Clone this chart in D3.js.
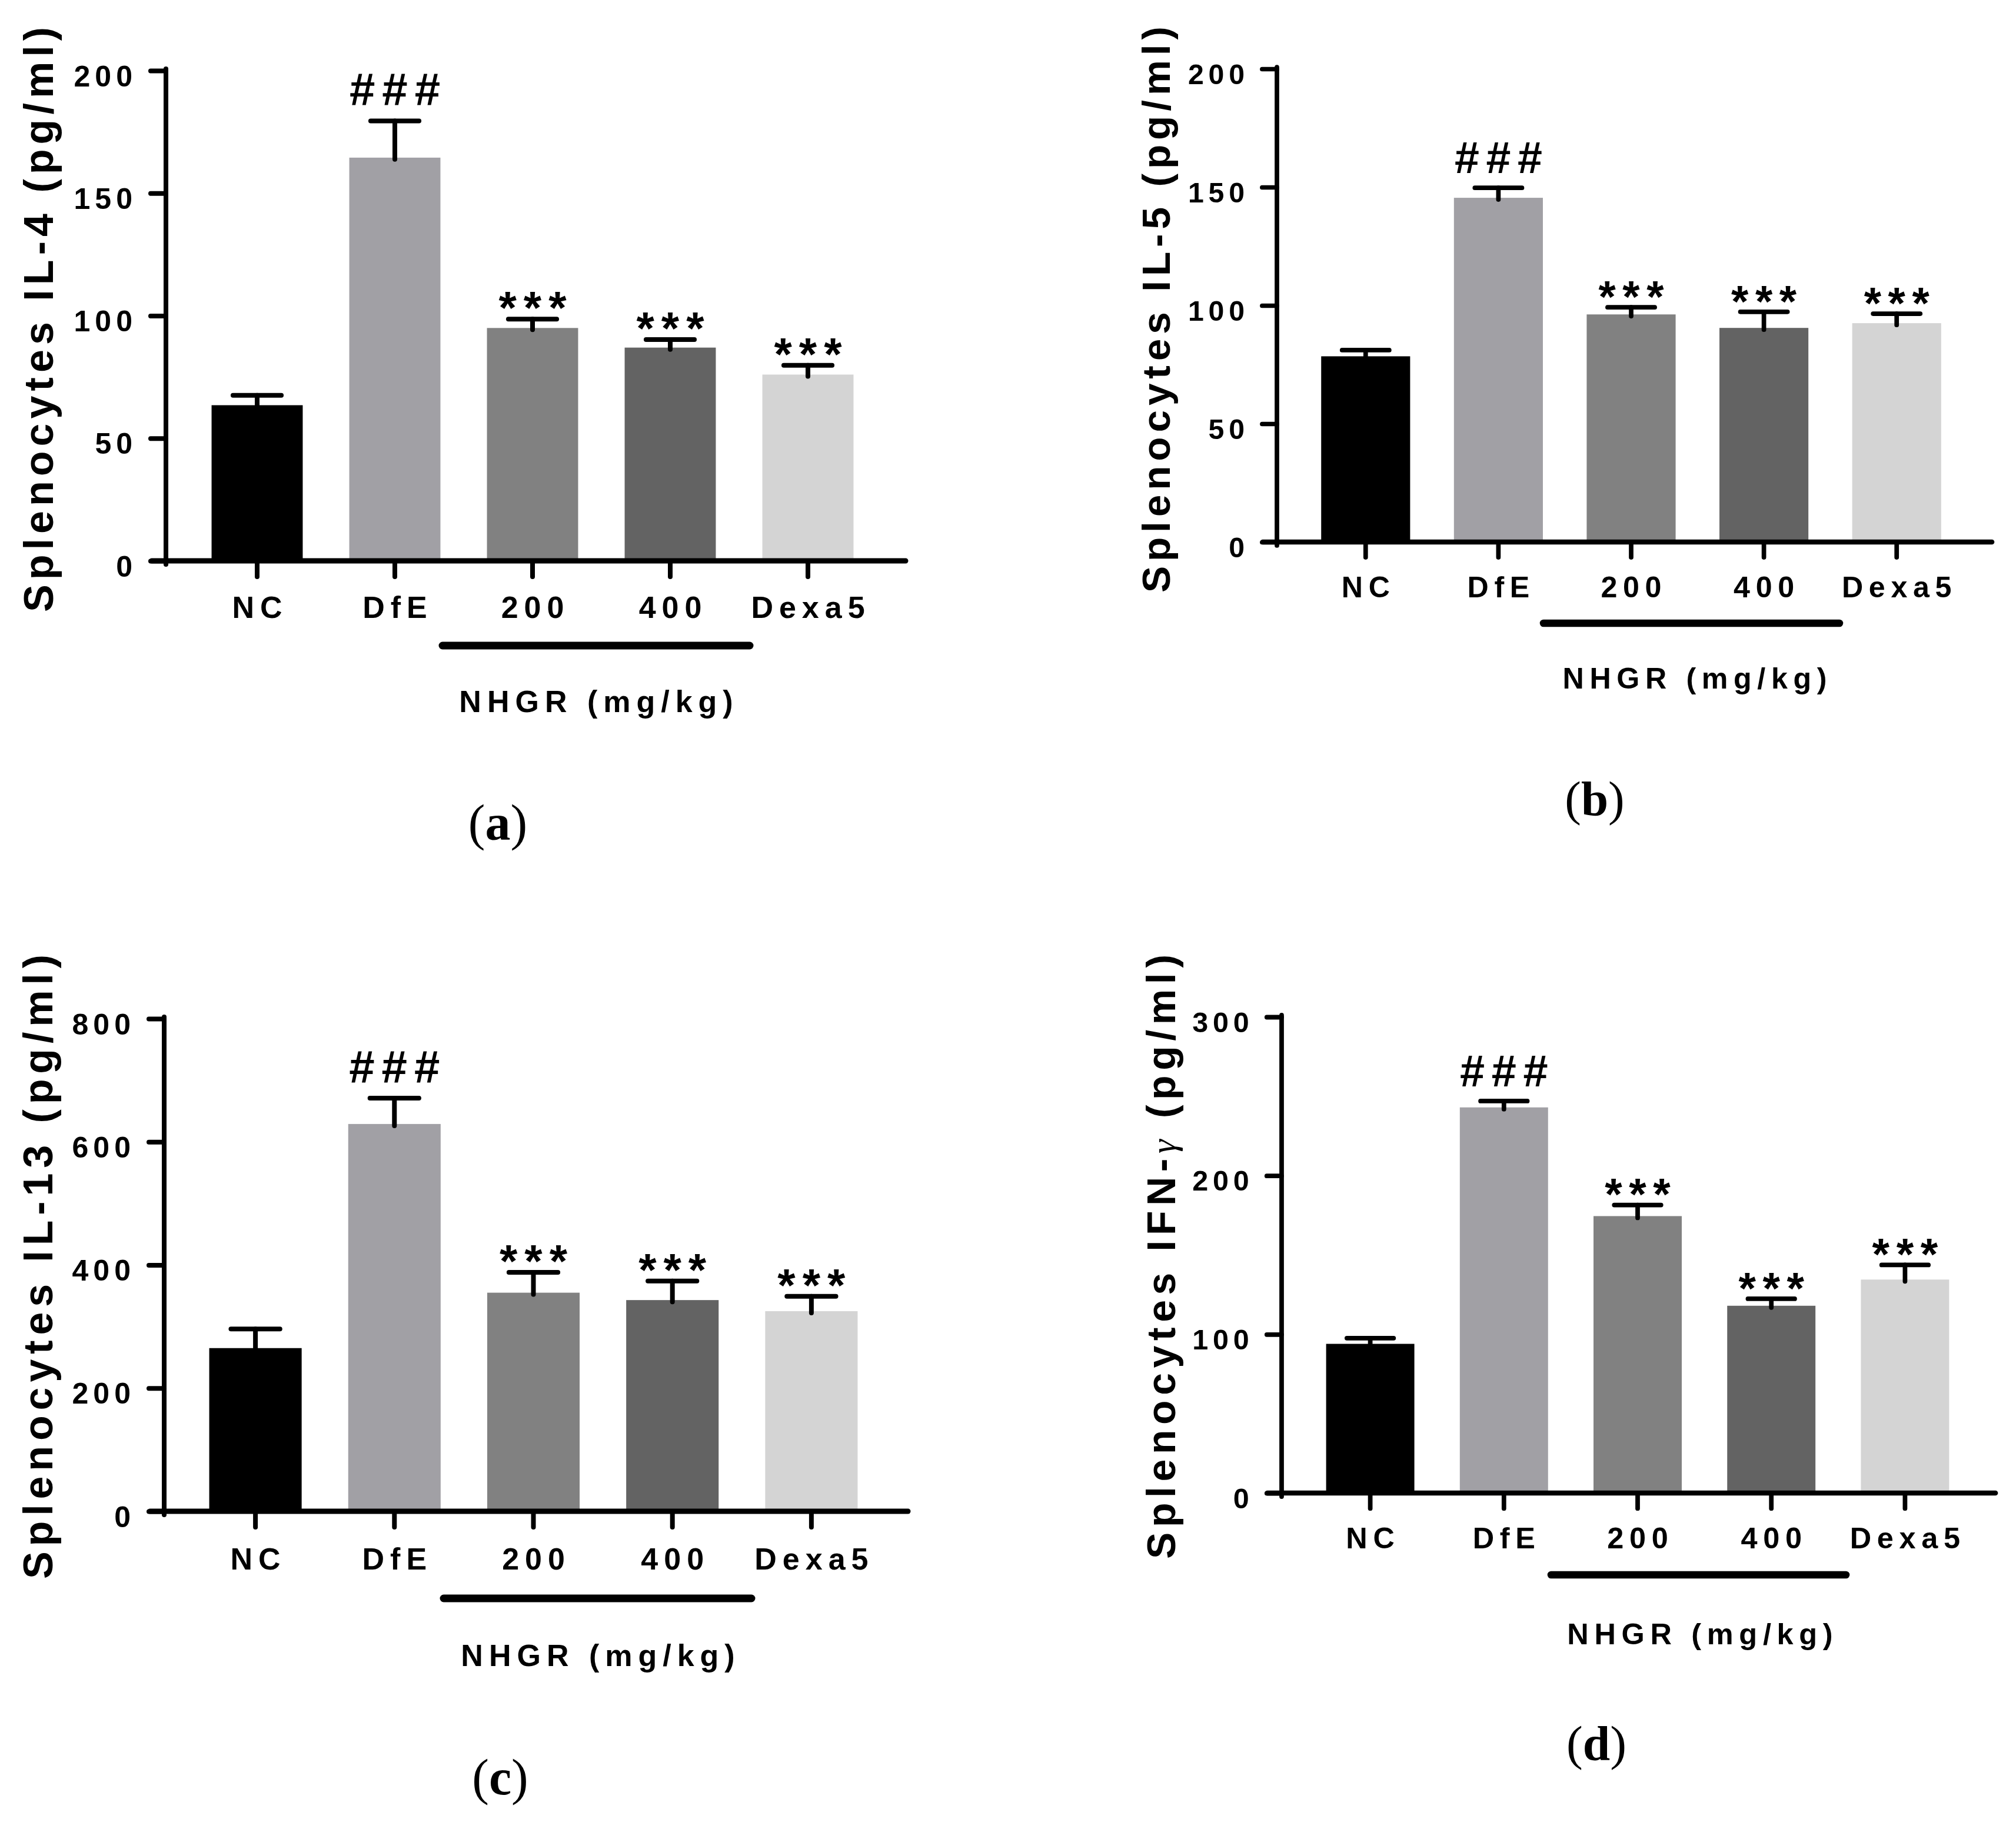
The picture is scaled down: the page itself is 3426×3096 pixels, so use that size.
<!DOCTYPE html>
<html>
<head>
<meta charset="utf-8">
<script src="https://cdn.jsdelivr.net/npm/d3@7/dist/d3.min.js"></script>
<style>
  html, body { margin: 0; padding: 0; background: #ffffff; }
  svg { display: block; }
</style>
</head>
<body>
<svg id="fig" width="3426" height="3096"></svg>
<script>
// ---------------- DATA ----------------
const categories = ["NC", "DfE", "200", "400", "Dexa5"];
const significance = ["", "###", "***", "***", "***"];

const il4Means  = [63.5, 164.5, 95, 87, 76];
const il4Errors = [4, 15, 3.6, 3.3, 3.8];
const il4Ticks  = [0, 50, 100, 150, 200];

const il5Means  = [78.5, 145.5, 96.2, 90.5, 92.5];
const il5Errors = [2.6, 4.2, 3, 6.8, 4];
const il5Ticks  = [0, 50, 100, 150, 200];

const il13Means  = [265, 629, 355, 343, 325];
const il13Errors = [31, 42, 33, 31, 24];
const il13Ticks  = [0, 200, 400, 600, 800];

const ifngMeans  = [94, 243, 174.5, 118, 134.5];
const ifngErrors = [3.6, 4, 7, 4.4, 9.2];
const ifngTicks  = [0, 100, 200, 300];

const groupLabel = "NHGR (mg/kg)";
const panelLetters = ["a", "b", "c", "d"];

// ---------------- STYLE ----------------
const barColors = ["#000000", "#a1a0a5", "#818181", "#636363", "#d4d4d4"];
const SANS = "'Liberation Sans', Arial, Helvetica, sans-serif";
const SERIF = "'Liberation Serif', 'Times New Roman', serif";

// ---------------- LAYOUT (per panel) ----------------
const panels = [
  { means: il4Means, errors: il4Errors, ticks: il4Ticks, letter: panelLetters[0],
    yLabel: ["Splenocytes IL-4 (pg/ml)"],
    axX: 282, y0: 953, yTop: 120, xStart: 258, xEnd: 1539,
    band: [320, 1490], pad: 0.338, catBase: 1050,
    bar: [752, 1274, 1097], grp: [1013, 1210],
    yl: [90, 1040, 46], pl: [846, 1427], s: 1 },
  { means: il5Means, errors: il5Errors, ticks: il5Ticks, letter: panelLetters[1],
    yLabel: ["Splenocytes IL-5 (pg/ml)"],
    axX: 2170, y0: 921, yTop: 117, xStart: 2146, xEnd: 3385,
    band: [2208, 3336], pad: 0.33, catBase: 1015,
    bar: [2623, 3126, 1059], grp: [2880, 1170],
    yl: [1988, 1007, 45], pl: [2710, 1385], s: 0.965 },
  { means: il13Means, errors: il13Errors, ticks: il13Ticks, letter: panelLetters[2],
    yLabel: ["Splenocytes IL-13 (pg/ml)"],
    axX: 279, y0: 2568, yTop: 1731, xStart: 255, xEnd: 1543,
    band: [316, 1497], pad: 0.335, catBase: 2667,
    bar: [754, 1277, 2716], grp: [1016, 2831],
    yl: [89, 2683, 1622], pl: [850, 3049], s: 1 },
  { means: ifngMeans, errors: ifngErrors, ticks: ifngTicks, letter: panelLetters[3],
    yLabel: ["Splenocytes IFN-", "γ", " (pg/ml)"],
    axX: 2178, y0: 2537, yTop: 1728, xStart: 2154, xEnd: 3391,
    band: [2215, 3351], pad: 0.34, catBase: 2631,
    bar: [2636, 3137, 2676], grp: [2889, 2794],
    yl: [1997, 2649, 1622], pl: [2713, 2990], s: 0.97 }
];

const svg = d3.select("#fig");

panels.forEach(p => {
  const s = p.s;
  const g = svg.append("g");
  const yMax = p.ticks[p.ticks.length - 1];
  const y = d3.scaleLinear().domain([0, yMax]).range([p.y0, p.yTop]);
  const x = d3.scaleBand().domain(categories).range(p.band)
              .paddingInner(p.pad).paddingOuter(p.pad / 2);
  const data = categories.map((c, i) => ({ c, m: p.means[i], e: p.errors[i], sig: significance[i], col: barColors[i] }));

  // bars
  g.selectAll("rect.bar").data(data).enter().append("rect")
    .attr("class", "bar")
    .attr("x", d => x(d.c))
    .attr("width", x.bandwidth())
    .attr("y", d => y(d.m))
    .attr("height", d => y(0) - y(d.m))
    .attr("fill", d => d.col);

  // error bars (upper only)
  const sw = 8 * s;
  const capHalf = x.bandwidth() * 0.265;
  const eb = g.selectAll("g.eb").data(data).enter().append("g").attr("class", "eb");
  eb.append("line")
    .attr("x1", d => x(d.c) + x.bandwidth() / 2).attr("x2", d => x(d.c) + x.bandwidth() / 2)
    .attr("y1", d => y(d.m) + 3).attr("y2", d => y(d.m + d.e))
    .attr("stroke", "#000").attr("stroke-width", sw).attr("stroke-linecap", "round");
  eb.append("line")
    .attr("x1", d => x(d.c) + x.bandwidth() / 2 - capHalf).attr("x2", d => x(d.c) + x.bandwidth() / 2 + capHalf)
    .attr("y1", d => y(d.m + d.e)).attr("y2", d => y(d.m + d.e))
    .attr("stroke", "#000").attr("stroke-width", sw).attr("stroke-linecap", "round");

  // significance marks
  const sigFs = 78 * s, sigLs = 12 * s;
  g.selectAll("text.sig").data(data.filter(d => d.sig)).enter().append("text")
    .attr("class", "sig")
    .attr("x", d => x(d.c) + x.bandwidth() / 2 + sigLs / 2)
    .attr("y", d => d.sig === "###" ? y(d.m + d.e) - 26 * s : y(d.m + d.e) + 8 * s)
    .attr("text-anchor", "middle")
    .attr("font-family", SANS).attr("font-weight", "bold")
    .attr("font-size", sigFs).attr("letter-spacing", sigLs)
    .text(d => d.sig);

  // y axis via d3.axisLeft
  const yAxis = d3.axisLeft(y).tickValues(p.ticks).tickSize(26 * s).tickSizeOuter(0).tickPadding(23 * s);
  const ya = g.append("g").attr("transform", `translate(${p.axX},0)`).call(yAxis);
  ya.select(".domain").remove();
  ya.selectAll(".tick line").attr("stroke", "#000").attr("stroke-width", sw).attr("stroke-linecap", "round");
  ya.selectAll(".tick text")
    .attr("font-family", SANS).attr("font-weight", "bold").attr("font-size", 50 * s)
    .attr("letter-spacing", 8 * s).attr("dy", "0.52em").attr("fill", "#000");

  // axis lines
  g.append("line").attr("x1", p.axX).attr("x2", p.axX).attr("y1", y(yMax) - 3).attr("y2", p.y0 + 6)
    .attr("stroke", "#000").attr("stroke-width", sw).attr("stroke-linecap", "round");
  g.append("line").attr("x1", p.xStart).attr("x2", p.xEnd).attr("y1", p.y0).attr("y2", p.y0)
    .attr("stroke", "#000").attr("stroke-width", 9 * s).attr("stroke-linecap", "round");

  // x axis via d3.axisBottom
  const xAxis = d3.axisBottom(x).tickSize(27 * s).tickSizeOuter(0);
  const xa = g.append("g").attr("transform", `translate(0,${p.y0})`).call(xAxis);
  xa.select(".domain").remove();
  xa.selectAll(".tick line").attr("stroke", "#000").attr("stroke-width", sw).attr("stroke-linecap", "round");
  const catLs = 10 * s;
  xa.selectAll(".tick text")
    .attr("font-family", SANS).attr("font-weight", "bold").attr("font-size", 52 * s)
    .attr("letter-spacing", catLs).attr("dy", 0).attr("y", p.catBase - p.y0)
    .attr("x", catLs / 2).attr("fill", "#000");

  // group bar + label
  g.append("line").attr("x1", p.bar[0]).attr("x2", p.bar[1]).attr("y1", p.bar[2]).attr("y2", p.bar[2])
    .attr("stroke", "#000").attr("stroke-width", 13 * s).attr("stroke-linecap", "round");
  g.append("text").attr("x", p.grp[0] + catLs / 2).attr("y", p.grp[1])
    .attr("text-anchor", "middle").attr("font-family", SANS).attr("font-weight", "bold")
    .attr("font-size", 52 * s).attr("letter-spacing", catLs).text(groupLabel);

  // y label
  const yl = g.append("text")
    .attr("transform", `translate(${p.yl[0]},${(p.yl[1] + p.yl[2]) / 2}) rotate(-90)`)
    .attr("text-anchor", "middle")
    .attr("font-family", SANS).attr("font-weight", "bold").attr("font-size", 70 * s)
    .attr("textLength", p.yl[1] - p.yl[2]).attr("lengthAdjust", "spacing");
  p.yLabel.forEach((t, i) => {
    const ts = yl.append("tspan").text(t);
    if (t === "γ") {
      ts.attr("font-family", SERIF).attr("font-style", "italic").attr("font-weight", "normal")
        .attr("font-size", 62 * s);
    }
  });

  // panel letter
  const pl = g.append("text").attr("x", p.pl[0]).attr("y", p.pl[1]).attr("text-anchor", "middle")
    .attr("font-family", SERIF).attr("font-size", 86 * s);
  pl.append("tspan").text("(");
  pl.append("tspan").attr("font-weight", "bold").text(p.letter);
  pl.append("tspan").text(")");
});
</script>
</body>
</html>
